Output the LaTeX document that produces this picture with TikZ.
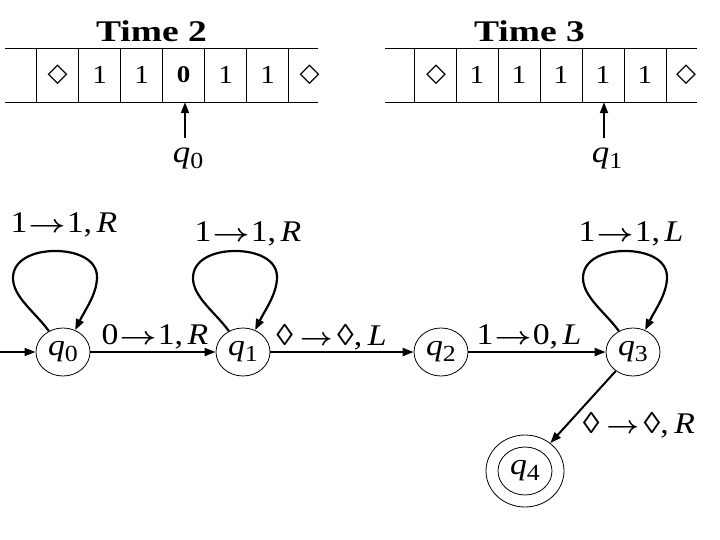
\documentclass[tikz,border=0pt]{standalone}
\usepackage{fontspec}
\setmainfont{Liberation Serif}
\newfontfamily\symfont{DejaVu Sans}
\usetikzlibrary{arrows.meta,calc,shapes.geometric}
\newcommand{\sx}[1]{\scalebox{1.125}[1]{#1}}
\newcommand{\qs}[1]{\sx{\textit{q}\raisebox{-6pt}{\fontsize{23}{26}\selectfont #1}}}
\newcommand{\arr}{\scalebox{1.15}[1]{\boldmath$\rightarrow$}}
\newcommand{\tr}[3]{\sx{#1\hspace{1pt}\arr\hspace{1pt}#2,\hspace{4pt}\textit{#3}}}
\newcommand{\trl}[3]{\sx{#1\hspace{6pt}\scalebox{1.02}[1]{\boldmath$\rightarrow$}\hspace{4pt}#2,\hspace{5pt}\textit{#3}}}
\newcommand{\tmloop}[1]{%
  \draw[loopedge] (#1.124) .. controls ($(#1)+(-28,-40)$) and ($(#1)+(-50,-55)$) .. ($(#1)+(-50,-74)$)
   .. controls ($(#1)+(-50,-92)$) and ($(#1)+(-30,-101)$) .. ($(#1)+(-8,-101)$)
   .. controls ($(#1)+(15,-101)$) and ($(#1)+(34,-92)$) .. ($(#1)+(34,-75)$)
   .. controls ($(#1)+(34,-58)$) and ($(#1)+(22,-42)$) .. (#1.61);}
\begin{document}
\begin{tikzpicture}[x=1pt,y=-1pt,
  state/.style={ellipse,draw,line width=0.8pt,minimum width=54pt,minimum height=48pt,inner sep=0pt,font=\fontsize{30}{32}\selectfont},
  ring/.style={ellipse,draw,line width=0.8pt,minimum width=78pt,minimum height=72pt,inner sep=0pt},
  edge/.style={line width=2pt,-{Triangle[length=11pt,width=8pt]}},
  loopedge/.style={line width=2.2pt,-{Triangle[length=11pt,width=8pt]}},
  lab/.style={font=\fontsize{30}{34}\selectfont,inner sep=0pt,anchor=base},
  tapeline/.style={line width=0.8pt},
  cell/.style={font=\fontsize{26}{28}\selectfont,inner sep=0pt,minimum width=42pt,minimum height=54pt},
  blank/.style={cell,font=\symfont\fontsize{26}{28}\selectfont},
  zero/.style={cell,font=\bfseries\fontsize{24}{26}\selectfont},
  title/.style={font=\bfseries\fontsize{30}{34}\selectfont,inner sep=0pt},
  headlab/.style={font=\fontsize{31}{34}\selectfont,inner sep=0pt}
]
\useasboundingbox (0,0) rectangle (720,540);
% ---------- Time 2 ----------
\node[title] (t2) at (151.5,31) {\scalebox{1.25}[1]{Time 2}};
\draw[tapeline] (5,48) -- (318,48);
\draw[tapeline] (5,102) -- (318,102);
\foreach \x in {36.7,78.7,120.7,162.7,204.7,246.7,288.7} \draw[tapeline] (\x,48) -- (\x,102);
\node[blank] (a1) at (57.7,75) {◇};
\node[cell] (a2) at (99.7,75) {\sx{1}};
\node[cell] (a3) at (141.7,75) {\sx{1}};
\node[zero] (a4) at (183.7,75) {\sx{0}};
\node[cell] (a5) at (225.7,75) {\sx{1}};
\node[cell] (a6) at (267.7,75) {\sx{1}};
\node[blank] (a7) at (309.7,75) {◇};
\node[headlab] (h0) at (188,158) {\qs{0}};
\coordinate (h0top) at (185,138);
\draw[edge] (h0top) -- (a4.south -| h0top);
% ---------- Time 3 ----------
\node[title] (t3) at (529.5,31) {\scalebox{1.25}[1]{Time 3}};
\draw[tapeline] (385,48) -- (697,48);
\draw[tapeline] (385,102) -- (697,102);
\foreach \x in {414,456,498,540,582,624,666} \draw[tapeline] (\x,48) -- (\x,102);
\node[blank] (b1) at (436,75) {◇};
\node[cell] (b2) at (477,75) {\sx{1}};
\node[cell] (b3) at (519,75) {\sx{1}};
\node[cell] (b4) at (561,75) {\sx{1}};
\node[cell] (b5) at (603,75) {\sx{1}};
\node[cell] (b6) at (645,75) {\sx{1}};
\node[blank] (b7) at (686,75) {◇};
\node[headlab] (h1) at (607,158) {\qs{1}};
\coordinate (h1top) at (604,138);
\draw[edge] (h1top) -- (b5.south -| h1top);
% ---------- machine ----------
\node[state] (q0) at (63,352) {\qs{0}};
\node[state] (q1) at (243,352) {\qs{1}};
\node[state] (q2) at (441,352) {\qs{2}};
\node[state] (q3) at (633,352) {\qs{3}};
\node[state] (q4) at (525,471) {\qs{4}};
\node[ring] (q4ring) at (q4) {};
\coordinate (init) at (0,352);
\draw[edge] (init) -- (q0);
\draw[edge] (q0) -- (q1);
\draw[edge] (q1) -- (q2);
\draw[edge] (q2) -- (q3);
\draw[edge] (q3) -- (q4ring);
\tmloop{q0}
\tmloop{q1}
\tmloop{q3}
\node[lab] (l00) at (64,233) {\tr{1}{1}{R}};
\node[lab] (l11) at (248,241) {\tr{1}{1}{R}};
\node[lab] (l33) at (631,241) {\tr{1}{1}{L}};
\node[lab] (l01) at (155,344) {\tr{0}{1}{R}};
\node[lab] (l12) at (331.5,345) {\trl{◊}{◊}{L}};
\node[lab] (l23) at (529,344) {\tr{1}{0}{L}};
\node[lab] (l34) at (639,433) {\trl{◊}{◊}{R}};
\end{tikzpicture}
\end{document}
